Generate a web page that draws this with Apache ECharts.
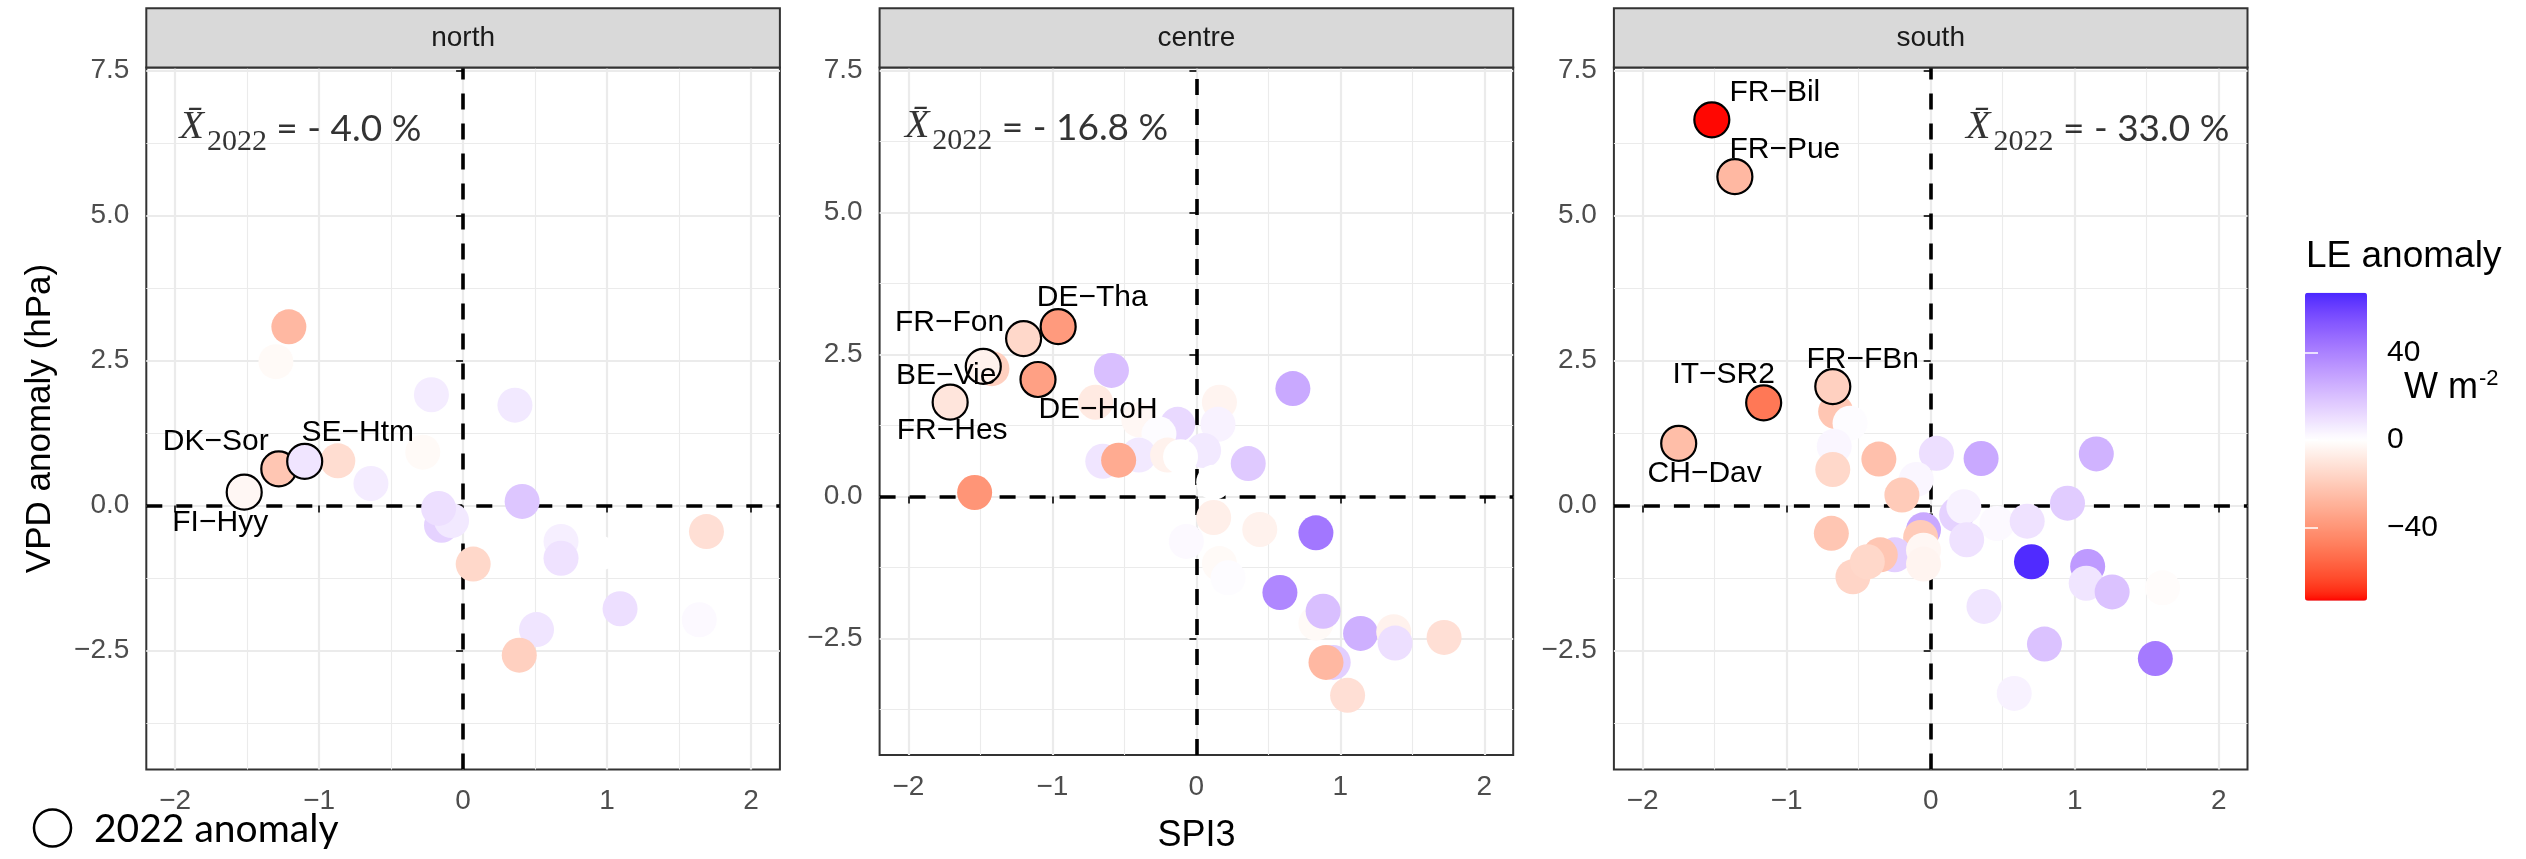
<!DOCTYPE html>
<html>
<head>
<meta charset="utf-8">
<script src="https://cdn.jsdelivr.net/npm/echarts@6.0.0/dist/echarts.min.js"></script>
<style>html,body{margin:0;padding:0;background:#fff}#chart{width:2526px;height:859px}</style>
</head>
<body>
<div id="chart"></div>
<script>
// ---------------- DATA ----------------
const panelNames = ['north', 'centre', 'south'];
// [SPI3, VPD anomaly (hPa), LE anomaly (W m-2)]
const northPoints = [
  [-1.21, 3.08, -27], [-1.30, 2.48, -2], [-0.22, 1.91, 6], [0.36, 1.73, 7],
  [-0.87, 0.77, -13], [-0.28, 0.92, -2], [-0.64, 0.38, 6],
  [-0.15, -0.34, 14], [-0.08, -0.26, 7], [-0.17, -0.05, 10],
  [0.41, 0.07, 18], [1.69, -0.45, -12], [0.68, -0.62, 5], [0.68, -0.91, 9],
  [0.95, -0.82, 0], [0.07, -1.01, -15], [1.09, -1.78, 10], [1.64, -1.97, 2],
  [0.51, -2.14, 8], [0.39, -2.58, -18]
];
const northSites = ['FI−Hyy', 'DK−Sor', 'SE−Htm'];
const north2022 = [[-1.52, 0.23, -3], [-1.28, 0.63, -22], [-1.10, 0.76, 8]];

const centrePoints = [
  [-1.42, 2.25, -18], [-0.59, 2.22, 20], [0.67, 1.90, 27], [-0.70, 1.66, -8],
  [0.16, 1.66, -4], [-0.13, 1.27, 12], [0.15, 1.27, 4], [-0.40, 1.35, -3],
  [-0.26, 1.10, 1], [-0.65, 0.62, 8], [-0.40, 0.73, 7], [-0.54, 0.64, -32],
  [-0.20, 0.73, -5], [0.05, 0.81, 7], [-0.11, 0.70, 0], [0.36, 0.58, 17],
  [0.12, 0.25, 0], [-1.54, 0.07, -40], [0.12, -0.37, -6], [0.44, -0.58, -5],
  [-0.07, -0.79, 2], [0.83, -0.64, 43], [0.16, -1.18, -2], [0.22, -1.43, 1],
  [0.58, -1.69, 38], [0.83, -2.23, -2], [0.88, -2.02, 20], [1.14, -2.41, 25],
  [1.37, -2.38, -5], [1.38, -2.58, 10], [1.72, -2.48, -12], [0.95, -2.92, 15],
  [0.90, -2.92, -27], [1.05, -3.50, -12]
];
const centreSites = ['FR−Hes', 'BE−Vie', 'DE−HoH', 'FR−Fon', 'DE−Tha'];
const centre2022 = [[-1.71, 1.66, -10], [-1.48, 2.29, -5], [-1.10, 2.06, -36], [-1.20, 2.78, -15], [-0.96, 2.99, -38]];

const southPoints = [
  [-0.66, 1.62, -22], [-0.56, 1.42, 1], [-0.67, 1.02, 3], [-0.68, 0.62, -15],
  [-0.36, 0.80, -24], [0.04, 0.90, 10], [0.35, 0.81, 27], [1.15, 0.89, 24],
  [-0.10, 0.45, 3], [-0.20, 0.18, -20], [0.95, 0.04, 16], [0.18, -0.16, 14],
  [0.23, -0.02, 4], [0.46, -0.31, 2], [0.67, -0.27, 9], [-0.69, -0.48, -22],
  [-0.05, -0.42, 27], [-0.07, -0.55, -20], [0.25, -0.59, 9], [-0.25, -0.85, 15],
  [-0.35, -0.85, -22], [-0.05, -0.77, -3], [-0.54, -1.23, -16], [-0.44, -0.97, -15],
  [-0.05, -1.01, -4], [0.70, -0.97, 66], [1.09, -1.05, 32], [1.08, -1.34, 8],
  [1.26, -1.49, 19], [1.61, -1.42, -1], [0.37, -1.74, 8], [0.79, -2.39, 19],
  [1.56, -2.64, 42], [0.58, -3.24, 4]
];
const southSites = ['FR−Bil', 'FR−Pue', 'IT−SR2', 'CH−Dav', 'FR−FBn'];
const south2022 = [[-1.52, 6.65, -73], [-1.36, 5.67, -27], [-1.16, 1.77, -50], [-1.75, 1.07, -25], [-0.68, 2.05, -18]];

// mean anomaly annotation: [SPI3, VPD, text]
const annotations = [[-1.13, 6.36, '- 4.0 %'], [-1.11, 6.36, '- 16.8 %'], [1.16, 6.36, '- 33.0 %']];

const xTicks = [-2, -1, 0, 1, 2];
const yTicks = [-2.5, 0, 2.5, 5, 7.5];
const xMinor = [-1.5, -0.5, 0.5, 1.5];
const yMinor = [-3.75, -1.25, 1.25, 3.75, 6.25];
const leTicks = [-40, 0, 40];
const leRange = [-73.4, 67.2];

// ---------------- STYLE ----------------
const labelOffsets = {
  'DK−Sor': [-63, -27], 'SE−Htm': [53, -29], 'FI−Hyy': [-24, 31],
  'DE−Tha': [34, -29], 'FR−Fon': [-74, -16], 'BE−Vie': [-37, 9], 'DE−HoH': [60, 30], 'FR−Hes': [2, 29],
  'FR−Bil': [63, -27], 'FR−Pue': [50, -27], 'IT−SR2': [-40, -28], 'FR−FBn': [30, -27], 'CH−Dav': [26, 30]
};
const gridLefts = [146.3, 879.6, 1613.9];
const gridW = 633.6, gridTop = 67.6, gridH = 701.8;
const SANS = '"Liberation Sans", Arial, sans-serif';

// Lab-space diverging gradient (red - white - blue), like scale_fill_gradient2
function labToHex(L, a, b) {
  const fy = (L + 16) / 116, fx = fy + a / 500, fz = fy - b / 200;
  const finv = t => t > 6 / 29 ? t * t * t : 3 * (6 / 29) * (6 / 29) * (t - 4 / 29);
  const X = 0.95047 * finv(fx), Y = finv(fy), Z = 1.08883 * finv(fz);
  let r = 3.2406 * X - 1.5372 * Y - 0.4986 * Z;
  let g = -0.9689 * X + 1.8758 * Y + 0.0415 * Z;
  let bb = 0.0557 * X - 0.2040 * Y + 1.0570 * Z;
  const gam = c => { c = Math.max(0, Math.min(1, c)); return c <= 0.0031308 ? 12.92 * c : 1.055 * Math.pow(c, 1 / 2.4) - 0.055; };
  const h = c => ('0' + Math.round(gam(c) * 255).toString(16)).slice(-2);
  return '#' + h(r) + h(g) + h(bb);
}
function leColour(v) {
  const m = Math.max(Math.abs(leRange[0]), Math.abs(leRange[1]));
  let t = Math.max(-1, Math.min(1, v / m));
  const W = [100, 0, 0], R = [53.24, 80.09, 67.20], B = [32.30, 79.19, -107.86];
  const E = t < 0 ? R : B; t = Math.abs(t);
  return labToHex(W[0] + (E[0] - W[0]) * t, W[1] + (E[1] - W[1]) * t, W[2] + (E[2] - W[2]) * t);
}
const colourStops = [];
for (let k = 0; k <= 140; k++) colourStops.push(leColour(leRange[0] + (leRange[1] - leRange[0]) * k / 140));

const minus = s => String(s).replace('-', '−');

const allPoints = [northPoints, centrePoints, southPoints];
const all2022 = [north2022, centre2022, south2022];
const allSites = [northSites, centreSites, southSites];

const grids = [], xAxes = [], yAxes = [], series = [], graphics = [];
const colourSeries = [];
for (let i = 0; i < 3; i++) {
  grids.push({ left: gridLefts[i], top: gridTop, width: gridW, height: gridH, show: true,
    backgroundColor: '#fff', borderColor: '#333333', borderWidth: 2 });
  xAxes.push({
    gridIndex: i, type: 'value', min: -2.2, max: 2.2,
    axisLine: { show: false },
    axisTick: { show: true, length: 7, lineStyle: { color: '#333333', width: 2 }, customValues: xTicks },
    axisLabel: { customValues: xTicks, formatter: v => minus(v), color: '#4D4D4D', fontSize: 28, fontFamily: SANS, margin: 18 },
    splitLine: { show: true, lineStyle: { color: '#EBEBEB', width: 2.2 } },
    name: i === 1 ? 'SPI3' : '', nameLocation: 'middle', nameGap: 63,
    nameTextStyle: { fontSize: 36, color: '#000', fontFamily: SANS }
  });
  yAxes.push({
    gridIndex: i, type: 'value', min: -4.55, max: 7.55,
    axisLine: { show: false },
    axisTick: { show: true, length: 7, lineStyle: { color: '#333333', width: 2 }, customValues: yTicks },
    axisLabel: { customValues: yTicks, formatter: v => minus(v.toFixed(1)), color: '#4D4D4D', fontSize: 28, fontFamily: SANS, margin: 17 },
    splitLine: { show: true, lineStyle: { color: '#EBEBEB', width: 2.2 } },
    name: i === 0 ? 'VPD anomaly (hPa)' : '', nameLocation: 'middle', nameGap: 88,
    nameTextStyle: { fontSize: 35, color: '#000', fontFamily: SANS }
  });
  const ann = annotations[i];
  const mlData = [];
  xMinor.forEach(v => mlData.push({ xAxis: v, lineStyle: { color: '#EBEBEB', width: 1.1, type: 'solid' } }));
  yMinor.forEach(v => mlData.push({ yAxis: v, lineStyle: { color: '#EBEBEB', width: 1.1, type: 'solid' } }));
  mlData.push({ xAxis: 0, lineStyle: { color: '#000', width: 3.6, type: [16, 14] } });
  mlData.push({ yAxis: 0, lineStyle: { color: '#000', width: 3.6, type: [16, 14] } });
  series.push({
    type: 'scatter', xAxisIndex: i, yAxisIndex: i, z: 1, silent: true,
    symbolSize: 0, data: [[ann[0], ann[1]]],
    label: {
      show: true, position: 'inside', color: '#000',
      formatter: '{x|X̄}{sub|2022}{t| = ' + ann[2] + '}',
      rich: {
        x: { fontFamily: '"Liberation Serif", "DejaVu Serif", serif', fontStyle: 'italic', fontSize: 40, lineHeight: 42, padding: [0, 3, 10, 0], verticalAlign: 'bottom', color: '#000' },
        sub: { fontFamily: '"Liberation Serif", "DejaVu Serif", serif', fontSize: 30, lineHeight: 30, verticalAlign: 'bottom', color: '#000' },
        t: { fontFamily: 'Lato, "Open Sans", sans-serif', fontSize: 37, lineHeight: 42, padding: [0, 0, 10, 0], verticalAlign: 'bottom', color: '#000' }
      }
    },
    markLine: { silent: true, z: 1, symbol: ['none', 'none'], label: { show: false }, animation: false, data: mlData }
  });
  colourSeries.push(series.length);
  series.push({
    type: 'scatter', xAxisIndex: i, yAxisIndex: i, z: 3, symbolSize: 35,
    itemStyle: { opacity: 1 }, data: allPoints[i]
  });
  colourSeries.push(series.length);
  series.push({
    type: 'scatter', xAxisIndex: i, yAxisIndex: i, z: 4, symbolSize: 35, name: '2022 anomaly',
    itemStyle: { opacity: 1, borderColor: '#000', borderWidth: 2.2 },
    label: { show: true, position: 'inside', formatter: p => p.name, color: '#000', fontSize: 30, fontFamily: SANS },
    data: all2022[i].map((d, k) => ({ value: d, name: allSites[i][k], label: { offset: labelOffsets[allSites[i][k]] } }))
  });
  // facet strip
  graphics.push({ type: 'rect', shape: { x: gridLefts[i], y: 8.3, width: gridW, height: 59.3 },
    style: { fill: '#D9D9D9', stroke: '#333333', lineWidth: 2 }, z: 10 });
  graphics.push({ type: 'text', x: gridLefts[i] + gridW / 2, y: 38,
    style: { text: panelNames[i], fill: '#1A1A1A', font: '28px ' + SANS, textAlign: 'center', textVerticalAlign: 'middle' }, z: 11 });
}

// colour bar axes (grid 3)
const cbLeft = 2305, cbTop = 292.7, cbW = 62, cbH = 308;
grids.push({ left: cbLeft, top: cbTop, width: cbW, height: cbH, show: false });
xAxes.push({ gridIndex: 3, type: 'value', show: false, min: 0, max: 1 });
yAxes.push({ gridIndex: 3, type: 'value', min: leRange[0], max: leRange[1], position: 'right', z: 10,
  axisLine: { show: false }, splitLine: { show: false },
  axisTick: { show: true, inside: true, length: 13, lineStyle: { color: '#fff', width: 1.5 }, customValues: leTicks },
  axisLabel: { customValues: leTicks, formatter: v => minus(v), color: '#000', fontSize: 30, fontFamily: SANS, margin: 20 } });
yAxes.push({ gridIndex: 3, type: 'value', min: leRange[0], max: leRange[1], position: 'left', z: 10,
  axisLine: { show: false }, splitLine: { show: false }, axisLabel: { show: false },
  axisTick: { show: true, inside: true, length: 13, lineStyle: { color: '#fff', width: 1.5 }, customValues: leTicks } });

graphics.push({ type: 'text', x: 2306, y: 257, z: 11,
  style: { text: 'LE anomaly', fill: '#000', font: '37px ' + SANS, textVerticalAlign: 'middle' } });
graphics.push({ type: 'text', x: 2404, y: 386, z: 11,
  style: { text: '{a|W m}{b|-2}', fill: '#000', textVerticalAlign: 'middle',
    rich: { a: { fontSize: 36, fontFamily: SANS, lineHeight: 40, verticalAlign: 'bottom' },
            b: { fontSize: 22, fontFamily: SANS, lineHeight: 40, padding: [0, 0, 16, 1], verticalAlign: 'bottom' } } } });
// bottom-left legend
graphics.push({ type: 'circle', shape: { cx: 52.5, cy: 828, r: 18.5 }, style: { fill: '#fff', stroke: '#000', lineWidth: 2.5 }, z: 11 });
graphics.push({ type: 'text', x: 94, y: 829, z: 11,
  style: { text: '2022 anomaly', fill: '#000', font: '39px Lato, "Open Sans", sans-serif', textVerticalAlign: 'middle' } });

const chart = echarts.init(document.getElementById('chart'), null, { renderer: 'canvas' });
chart.setOption({
  animation: false,
  backgroundColor: '#fff',
  grid: grids, xAxis: xAxes, yAxis: yAxes, series: series,
  visualMap: [{
    type: 'continuous', min: leRange[0], max: leRange[1], dimension: 2, seriesIndex: colourSeries,
    left: cbLeft, top: cbTop, itemWidth: cbW, itemHeight: cbH, padding: 0, calculable: false, hoverLink: false,
    inRange: { color: colourStops }, textStyle: { color: 'transparent' }, show: true
  }],
  graphic: graphics
});
</script>
</body>
</html>
